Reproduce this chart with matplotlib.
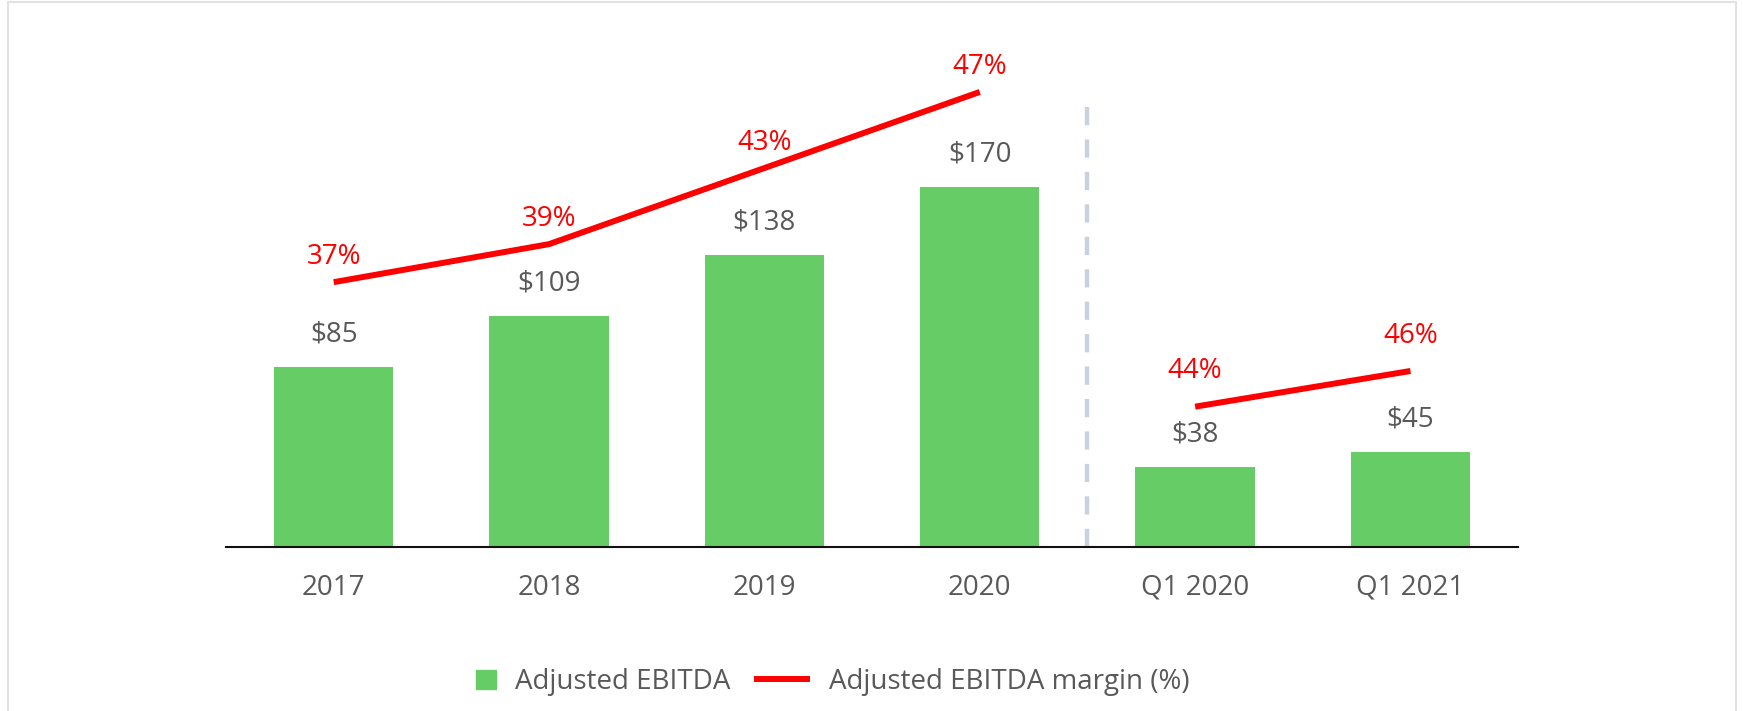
import matplotlib
matplotlib.use("Agg")
import matplotlib.pyplot as plt
from matplotlib.patches import Rectangle
from matplotlib.lines import Line2D
from matplotlib.legend_handler import HandlerPatch

plt.rcParams["font.family"] = ["Open Sans", "DejaVu Sans"]

categories = ["2017", "2018", "2019", "2020", "Q1 2020", "Q1 2021"]
ebitda = [85, 109, 138, 170, 38, 45]
annual_margin = [37, 39, 43, 47]
quarter_margin = [44, 46]

GREEN = "#66cc66"
RED = "#ff0000"
GRAY = "#595959"
FS = 20


def small_box(legend, orig_handle, xdescent, ydescent, width, height, fontsize):
    # square marker, right-aligned in the (longer) handle box
    w, h = 14.4, 13.7
    return Rectangle((-xdescent + width - w, -ydescent + (height - h) / 2), w, h)


fig = plt.figure(figsize=(17.43, 7.11), dpi=100)
ax = fig.add_axes([0.1297, 0.2302, 0.7413, 0.7135])

x = list(range(len(categories)))
ax.bar(x, ebitda, width=0.554, color=GREEN, zorder=2)
ax.set_xlim(-0.5, len(categories) - 0.5)
ax.set_ylim(0, 239.5)

for xi, v in zip(x, ebitda):
    ax.annotate(f"${v}", (xi, v), xytext=(0, 23.5), textcoords="offset points",
                ha="center", va="center", fontsize=FS, color=GRAY)

# separator between annual and quarterly figures
ax.axvline(3.5, ymin=0, ymax=0.8685, color="#c8d2df", lw=3.2,
           dashes=(4.1, 3.2), zorder=1)

for s in ["top", "right", "left"]:
    ax.spines[s].set_visible(False)
ax.spines["bottom"].set_color("#111111")
ax.spines["bottom"].set_linewidth(1.5)
ax.set_yticks([])
ax.set_xticks(x)
ax.set_xticklabels(categories, fontsize=FS, color=GRAY)
ax.tick_params(axis="x", length=0, pad=19)

# margin lines, each on its own scale
ax2 = ax.twinx()
ax2.set_ylim(23.06, 49.73)
ax2.plot(x[:4], annual_margin, color=RED, lw=4.3, solid_capstyle="butt")
for xi, v in zip(x[:4], annual_margin):
    ax2.annotate(f"{v}%", (xi, v), xytext=(0, 18), textcoords="offset points",
                 ha="center", va="center", fontsize=FS, color=RED)

ax3 = ax.twinx()
ax3.set_ylim(36.12, 64.54)
ax3.plot(x[4:], quarter_margin, color=RED, lw=4.3, solid_capstyle="butt")
for xi, v in zip(x[4:], quarter_margin):
    ax3.annotate(f"{v}%", (xi, v), xytext=(0, 25.5), textcoords="offset points",
                 ha="center", va="center", fontsize=FS, color=RED)

for a in (ax2, ax3):
    a.set_yticks([])
    for s in a.spines.values():
        s.set_visible(False)

handles = [Rectangle((0, 0), 1, 1, color=GREEN),
           Line2D([0], [0], color=RED, lw=4.3, solid_capstyle="butt")]
fig.legend(handles, ["Adjusted EBITDA", "Adjusted EBITDA margin (%)"],
           loc="center left", bbox_to_anchor=(440 / 1743, 1 - 682 / 711),
           ncol=2, frameon=False, fontsize=FS, labelcolor=GRAY,
           handlelength=2.02, handletextpad=0.68, columnspacing=0.84,
           borderpad=0, borderaxespad=0,
           handler_map={Rectangle: HandlerPatch(patch_func=small_box)})

# light frame around the chart
fig.add_artist(Rectangle((8 / 1743, -0.1), 1728 / 1743, 1.0972,
                         transform=fig.transFigure, fill=False,
                         edgecolor="#e2e2e2", lw=1.5))

fig.savefig("out.png", dpi=100)
